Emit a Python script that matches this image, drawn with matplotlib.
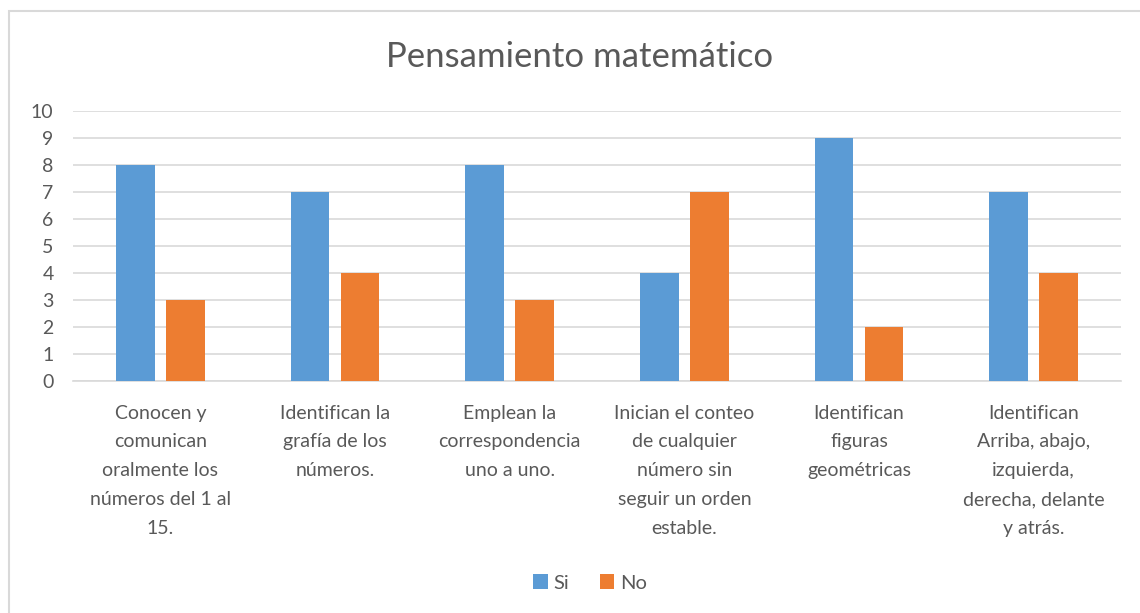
import matplotlib.pyplot as plt
import numpy as np
from matplotlib.patches import Rectangle

plt.rcParams['font.family'] = ['Lato', 'DejaVu Sans']

categorias = ["Conocen y\ncomunican\noralmente los\nnúmeros del 1 al\n15.",
              "Identifican la\ngrafía de los\nnúmeros.",
              "Emplean la\ncorrespondencia\nuno a uno.",
              "Inician el conteo\nde cualquier\nnúmero sin\nseguir un orden\nestable.",
              "Identifican\nfiguras\ngeométricas",
              "Identifican\nArriba, abajo,\nizquierda,\nderecha, delante\ny atrás."]
si = [8, 7, 8, 4, 9, 7]
no = [3, 4, 3, 7, 2, 4]

gris = "#595959"
azul = "#5B9BD5"
naranja = "#ED7D31"

fig = plt.figure(figsize=(11.4, 6.13), dpi=100)
ax = fig.add_axes([73/1140, 1-381/613, (1121-73)/1140, 270/613])

x = np.arange(len(categorias))
w = 0.22
ax.bar(x - 0.143, si, w, color=azul, label="Si", zorder=3)
ax.bar(x + 0.143, no, w, color=naranja, label="No", zorder=3)

ax.set_xlim(-0.5, len(categorias) - 0.5)
ax.set_ylim(0, 10)
ax.set_yticks(range(0, 11))
ax.yaxis.grid(True, color="#D9D9D9", linewidth=1.2, zorder=0)
for s in ["top", "right", "left"]:
    ax.spines[s].set_visible(False)
ax.spines["bottom"].set_color("#D9D9D9")
ax.spines["bottom"].set_linewidth(1.2)
ax.tick_params(axis="both", length=0, colors=gris, labelsize=14)
ax.tick_params(axis="y", pad=14)
ax.set_xticks(x)
ax.set_xticklabels(categorias, linespacing=1.84, va="top")
ax.tick_params(axis="x", pad=17)

fig.text(580/1140, 1-57/613, "Pensamiento matemático", ha="center", va="center",
         fontsize=25, color=gris)

leg = fig.legend(loc="center", bbox_to_anchor=(590/1140, 1-583/613), ncol=2,
                 frameon=False, fontsize=14.5, handlelength=0.7, handleheight=0.7,
                 handletextpad=0.3, columnspacing=1.5)
for t in leg.get_texts():
    t.set_color(gris)

fig.patches.append(Rectangle((9/1140, -0.1), 1.2, 1-11/613 + 0.1, transform=fig.transFigure,
                             fill=False, edgecolor="#D9D9D9", linewidth=1.5))

plt.savefig("out.png", dpi=100)
